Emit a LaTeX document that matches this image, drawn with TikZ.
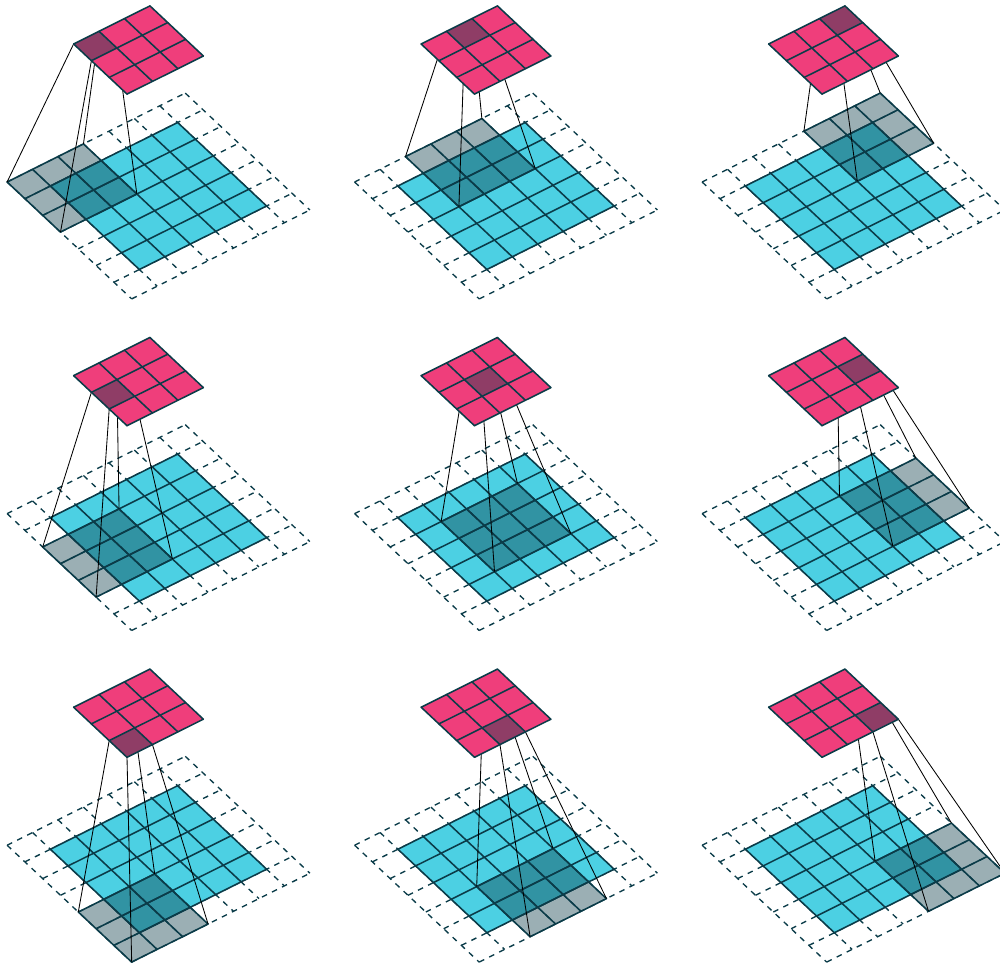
\documentclass[tikz,border=0pt]{standalone}
\definecolor{inkc}{HTML}{0B3C49}
\definecolor{bluec}{HTML}{4CD0E3}
\definecolor{pinkc}{HTML}{EF3E7B}
\definecolor{pinkd}{HTML}{8F3D66}
\tikzset{
  gridline/.style={draw=inkc,line width=1.55pt,line cap=round,line join=round},
  padline/.style={draw=inkc,line width=1.35pt,dash pattern=on 5.6pt off 5.6pt},
  linkline/.style={draw=black,line width=0.85pt},
  kernelfill/.style={fill=inkc,fill opacity=0.41},
}
\newcommand{\cellgrid}[5]{% x0 y0 nx ny style
  \foreach \i in {0,...,#3} {\pgfmathtruncatemacro{\xx}{#1+\i}\pgfmathtruncatemacro{\yy}{#2+#4}\draw[#5] (\xx,#2) -- (\xx,\yy);}
  \foreach \j in {0,...,#4} {\pgfmathtruncatemacro{\yy}{#2+\j}\pgfmathtruncatemacro{\xx}{#1+#3}\draw[#5] (#1,\yy) -- (\xx,\yy);}
}
\begin{document}
\begin{tikzpicture}[x=1pt,y=1pt]
\useasboundingbox (0pt,0pt) rectangle (1000pt,-965pt);
\clip (0pt,0pt) rectangle (1000pt,-965pt);
\foreach \c in {0,1,2} \foreach \r in {0,1,2} {
  \pgfmathsetmacro{\sx}{7.1+\c*347.5}
  \pgfmathsetmacro{\sy}{-182-\r*331.6}
  \pgfmathtruncatemacro{\ka}{2*\c}
  \pgfmathtruncatemacro{\kb}{2*\r}
  \pgfmathtruncatemacro{\kc}{2*\c+3}
  \pgfmathtruncatemacro{\kd}{2*\r+3}
  \pgfmathtruncatemacro{\oc}{\c+1}
  \pgfmathtruncatemacro{\od}{\r+1}
  \begin{scope}[x={(25.45pt,12.7pt)},y={(17.8pt,-16.7pt)},shift={(\sx pt,\sy pt)}]
    % padded input
    \cellgrid{0}{0}{7}{7}{padline}
    % input
    \fill[bluec] (1,1) -- (6,1) -- (6,6) -- (1,6) -- cycle;
    \cellgrid{1}{1}{5}{5}{gridline}
    % kernel
    \fill[kernelfill] (\ka,\kb) -- (\kc,\kb) -- (\kc,\kd) -- (\ka,\kd) -- cycle;
    \cellgrid{\ka}{\kb}{3}{3}{gridline}
    \coordinate (kl) at (\ka,\kb);
    \coordinate (kt) at (\kc,\kb);
    \coordinate (kb) at (\ka,\kd);
    \coordinate (kr) at (\kc,\kd);
    \begin{scope}[shift={(66.5pt,138pt)}]
      \coordinate (ol) at (\c,\r);
      \coordinate (ot) at (\oc,\r);
      \coordinate (ob) at (\c,\od);
      \coordinate (or) at (\oc,\od);
      \draw[linkline] (ol) -- (kl);
      \draw[linkline] (ot) -- (kt);
      \draw[linkline] (ob) -- (kb);
      \draw[linkline] (or) -- (kr);
      \fill[pinkc] (0,0) -- (3,0) -- (3,3) -- (0,3) -- cycle;
      \fill[pinkd] (ol) -- (ot) -- (or) -- (ob) -- cycle;
      \cellgrid{0}{0}{3}{3}{gridline}
    \end{scope}
  \end{scope}
}
\end{tikzpicture}
\end{document}
